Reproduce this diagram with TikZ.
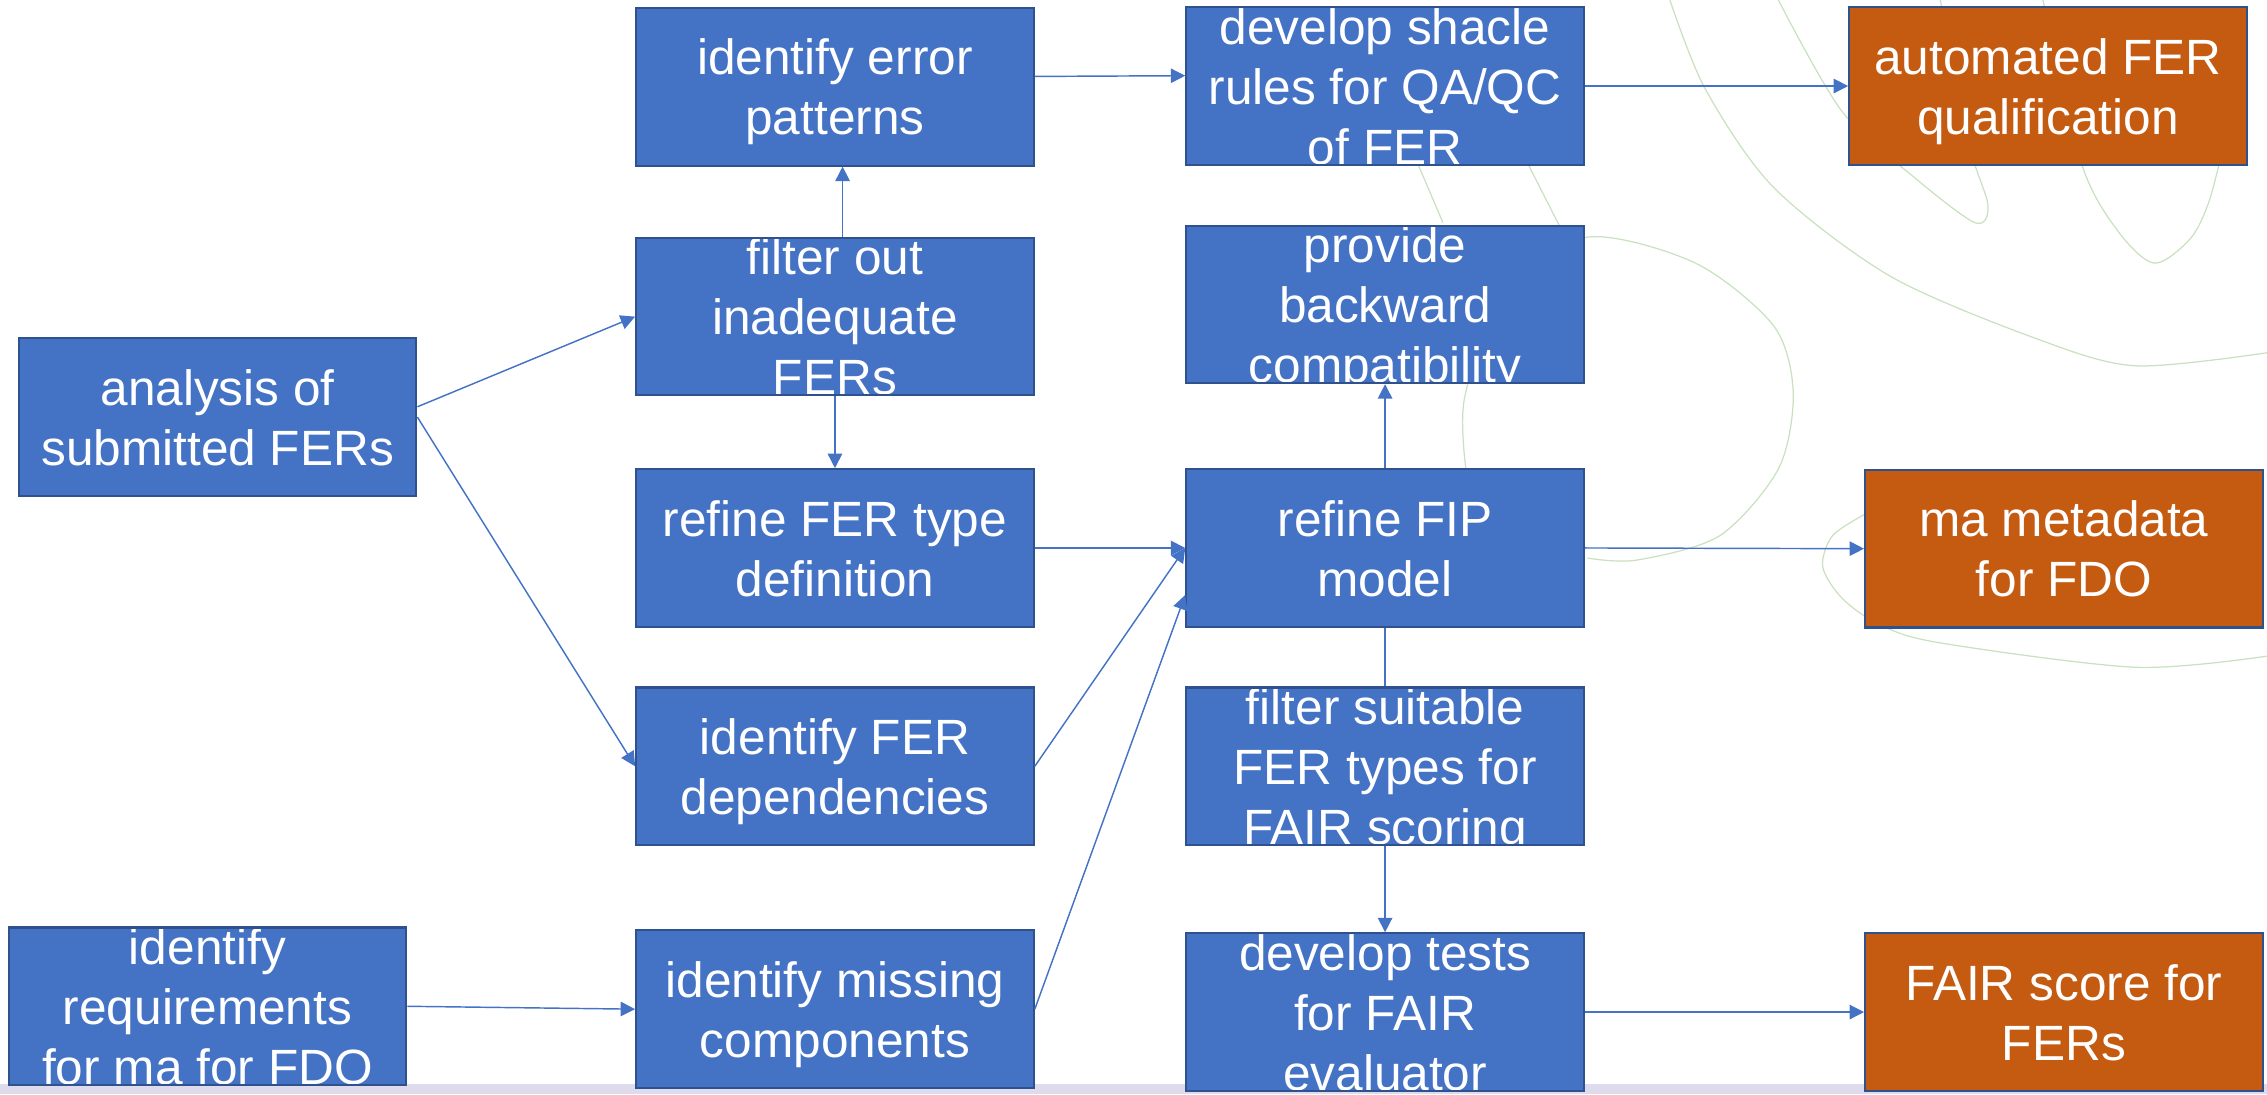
\documentclass[tikz,border=0pt]{standalone}
\usepackage{fontspec}
\setmainfont{Liberation Sans}
\usepackage{tikz}
\usetikzlibrary{arrows.meta}
\definecolor{boxblue}{RGB}{68,114,196}
\definecolor{boxedge}{RGB}{47,82,143}
\definecolor{goal}{RGB}{197,90,17}
\definecolor{strip}{RGB}{221,219,236}
\definecolor{swirl}{RGB}{200,226,192}

\begin{document}
\begin{tikzpicture}[x=0.7pt,y=-0.7pt,
  box/.style={minimum width=192.5pt,minimum height=76.3pt,inner sep=0pt,
    fill=boxblue,draw=boxedge,line width=1pt,
    path picture={\node[text=white,align=center,font=\fontsize{24}{29}\selectfont]
      at ([yshift=-3pt]path picture bounding box.center) {\strut#1\strut};}},
  goalbox/.style={box={#1},fill=goal},
  link/.style={draw=boxblue,line width=0.7pt,-{Triangle[length=7pt,width=7pt]}},
  curve/.style={draw=swirl,line width=0.6pt}]
\useasboundingbox (0,0) rectangle (1568,757);
\fill[strip] (0,749.6) rectangle (1568,757);
\draw[curve] plot[smooth] coordinates {(1155,0) (1179.5,61.6) (1226.8,129.7) (1308,191.4) (1409.5,234.6) (1477,253) (1568,244)};
\draw[curve] plot[smooth] coordinates {(1230,0) (1274,77) (1325,123.5) (1366,154) (1375,142) (1362,100) (1342,0)};
\draw[curve] plot[smooth] coordinates {(1413,0) (1440,114) (1465,160) (1490,182) (1515,165) (1528,139) (1538,100)};
\draw[curve] plot[smooth] coordinates {(1014,325) (1013,275) (1040,200) (1098,164) (1172.7,182) (1226.8,225.4) (1240.3,271.7) (1230.2,324) (1189.5,370.5) (1132,387.4) (1098,386)};
\draw[curve] plot[smooth] coordinates {(1291,355) (1267.5,370.5) (1260.7,392) (1274,413.7) (1300,432) (1341.6,444.6) (1477,461.5) (1568,453.8)};
\draw[curve] (975,100) -- (998,154);
\draw[curve] (1050,100) -- (1079,157);

\node[box={identify error\\patterns}] (err) at (577.5,60) {};
\node[box={develop shacle\\rules for QA/QC\\of FER}] (shacle) at (958,59.5) {};
\node[goalbox={automated FER\\qualification}] (auto) at (1416.5,59.5) {};
\node[box={filter out\\inadequate\\FERs}] (filt) at (577.5,219) {};
\node[box={provide\\backward\\compatibility}] (prov) at (958,210.5) {};
\node[box={analysis of\\submitted FERs}] (ana) at (150.5,288.5) {};
\node[box={refine FER type\\definition}] (rtype) at (577.5,379) {};
\node[box={refine FIP\\model}] (fip) at (958,379) {};
\node[goalbox={ma metadata\\for FDO}] (meta) at (1427.5,379.5) {};
\node[box={identify FER\\dependencies}] (dep) at (577.5,530) {};
\node[box={filter suitable\\FER types for\\FAIR scoring}] (suit) at (958,530) {};
\node[box={identify\\requirements\\for ma for FDO}] (req) at (143.5,696) {};
\node[box={identify missing\\components}] (miss) at (577.5,698) {};
\node[box={develop tests\\for FAIR\\evaluator}] (tests) at (958,700) {};
\node[goalbox={FAIR score for\\FERs}] (score) at (1427.5,700) {};

\draw[link] ([yshift=5pt]ana.east) -- (filt.west);
\draw[link] (ana.east) -- (dep.west);
\draw[link] ([xshift=3.7pt]filt.north) -- ([xshift=3.7pt]err.south);
\draw[link] (filt.south) -- (rtype.north);
\draw[link] ([yshift=5pt]err.east) -- ([yshift=5pt]shacle.west);
\draw[link] (shacle.east) -- (auto.west);
\draw[link] (rtype.east) -- (fip.west);
\draw[link] (dep.east) -- (fip.west);
\draw[link] (miss.east) -- ([yshift=-22.75pt]fip.west);
\draw[link] (req.east) -- (miss.west);
\draw[link] (fip.north) -- (prov.south);
\draw[link,-] (fip.south) -- (suit.north);
\draw[link] (suit.south) -- (tests.north);
\draw[link] (fip.east) -- (meta.west);
\draw[link] (tests.east) -- (score.west);
\end{tikzpicture}
\end{document}
